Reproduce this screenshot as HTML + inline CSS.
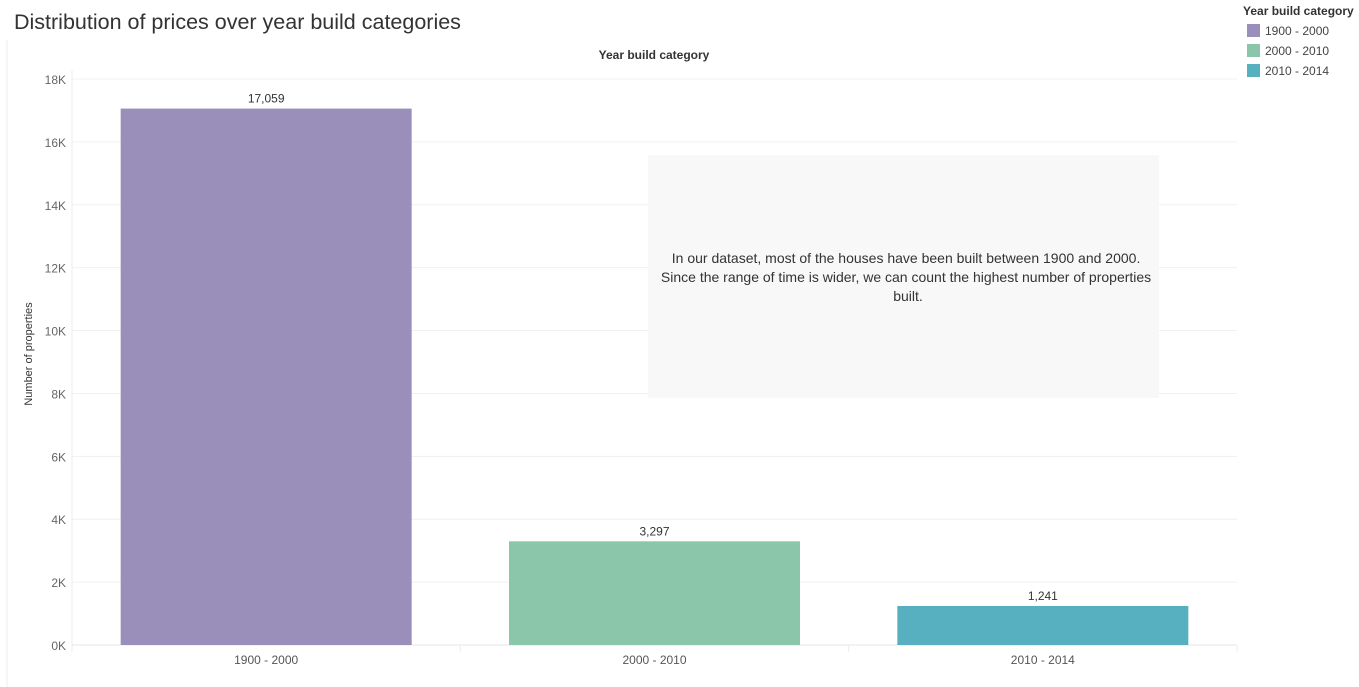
<!DOCTYPE html>
<html><head><meta charset="utf-8"><style>
body{margin:0;background:#fff;font-family:"Liberation Sans",sans-serif}
svg{display:block}
</style></head><body>
<svg id="c" width="1359" height="687" xmlns="http://www.w3.org/2000/svg">
<text x="14" y="29" font-size="21.5" fill="#333">Distribution of prices over year build categories</text>
<line x1="7" y1="40" x2="7" y2="687" stroke="#eee"/>
<text x="654" y="59" font-size="12" fill="#333" text-anchor="middle" font-weight="bold">Year build category</text>
<text transform="translate(32,354) rotate(-90)" font-size="11" fill="#333" text-anchor="middle">Number of properties</text>
<g id="grid"></g>
<rect x="648" y="155" width="511" height="243" fill="#f8f8f8"/>
<text font-size="14" fill="#333" text-anchor="middle">
<tspan x="908" y="263">In our dataset, most of the houses have been built between 1900 and 2000.</tspan>
<tspan x="908" y="282">Since the range of time is wider, we can count the highest number of properties</tspan>
<tspan x="908" y="301">built.</tspan></text>
<g id="bars"></g>
<g>
<text x="1243" y="15" font-size="12" font-weight="bold" fill="#333">Year build category</text>
<g id="leg"></g></g>
</svg>
<script>
const categories=["1900 - 2000","2000 - 2010","2010 - 2014"];
const values=[17059,3297,1241];
const valueLabels=["17,059","3,297","1,241"];
const colors=["#9a8fba","#8bc5aa","#57b0c0"];
const yTicks=[0,2000,4000,6000,8000,10000,12000,14000,16000,18000];
const yTickLabels=["0K","2K","4K","6K","8K","10K","12K","14K","16K","18K"];
const NS="http://www.w3.org/2000/svg";
const x0=72,x1=1237,yb=645,yt=79,ymax=18000;
const y=v=>yb-(v/ymax)*(yb-yt);
const bw=(x1-x0)/categories.length;
function mk(t,a,p){const e=document.createElementNS(NS,t);for(const k in a)e.setAttribute(k,a[k]);p.appendChild(e);return e;}
const g=document.getElementById('grid');
mk('line',{x1:x0,y1:70,x2:x0,y2:652,stroke:'#eee'},g);
yTicks.forEach((t,i)=>{
 const l=mk('line',{x1:x0,y1:y(t),x2:x1,y2:y(t),stroke:i==0?'#e6e6e6':'#f0f0f0'},g);
 
 
 const tx=mk('text',{x:66,y:y(t)+5,'font-size':12,fill:'#666','text-anchor':'end'},g);
 tx.textContent=yTickLabels[i];
 
 
});
const b=document.getElementById('bars');
categories.forEach((c,i)=>{
 const cx=x0+bw*(i+0.5);
 mk('line',{x1:x0+bw*(i+1),y1:yb,x2:x0+bw*(i+1),y2:652,stroke:'#eee'},g);
 const r=mk('rect',{x:cx-145.5,y:y(values[i]),width:291,height:yb-y(values[i]),fill:colors[i]},b);
 
 
 const vl=mk('text',{x:cx,y:y(values[i])-6,'font-size':12,fill:'#333','text-anchor':'middle'},b);
 vl.textContent=valueLabels[i];
 
 
 const xl=mk('text',{x:cx,y:664,'font-size':12,fill:'#555','text-anchor':'middle'},b);
 xl.textContent=c;
 
 
});
const L=document.getElementById('leg');
categories.forEach((c,i)=>{
 const yy=24+i*20;
 const s=mk('rect',{x:1247,y:yy,width:13,height:13,fill:colors[i]},L);
 
 
 const t=mk('text',{x:1265,y:yy+11,'font-size':12,fill:'#444'},L);
 t.textContent=c;
 
 
});
</script>
</body></html>
